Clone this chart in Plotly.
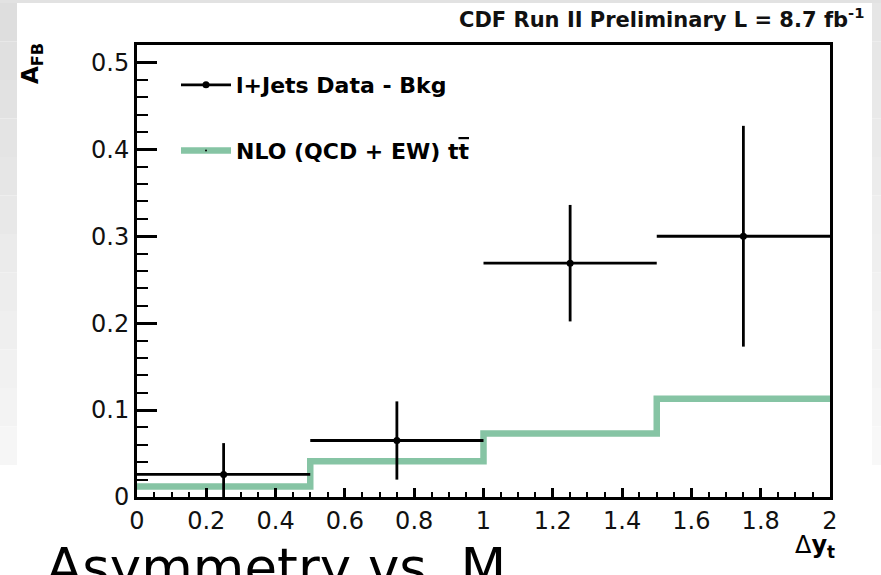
import plotly.graph_objects as go

# ---- data -------------------------------------------------------------
bin_centers = [0.25, 0.75, 1.25, 1.75]
bin_halfwidth = [0.25, 0.25, 0.25, 0.25]
afb_data = [0.026, 0.065, 0.269, 0.300]
afb_err = [0.036, 0.045, 0.067, 0.127]

nlo_edges = [0.0, 0.5, 1.0, 1.5, 2.0]
nlo_values = [0.012, 0.041, 0.073, 0.113]

data_label = "l+Jets Data - Bkg"
nlo_label = "NLO (QCD + EW) t<span style='text-decoration:overline'>t</span>"

# ---- geometry (pixels) ------------------------------------------------
W, H = 881, 575
L, R, T, B = 137, 830, 45, 497


def px(x):
    return (x - L) / (R - L)


def py(y):
    return (B - y) / (B - T)


GREEN = "#86c4a4"
FONT = "DejaVu Sans, Liberation Sans, Arial, sans-serif"

fig = go.Figure()

# NLO prediction as a step histogram
fig.add_trace(go.Scatter(
    x=nlo_edges,
    y=nlo_values + [nlo_values[-1]],
    mode="lines",
    line=dict(color=GREEN, width=6.5, shape="hv"),
    showlegend=False,
    hoverinfo="skip",
))

# background-subtracted data with bin-width and statistical errors
fig.add_trace(go.Scatter(
    x=bin_centers,
    y=afb_data,
    mode="markers",
    marker=dict(color="black", size=7),
    error_x=dict(type="data", array=bin_halfwidth, color="black", thickness=2.8, width=0),
    error_y=dict(type="data", array=afb_err, color="black", thickness=2.8, width=0),
    showlegend=False,
))

# legend entries
fig.add_trace(go.Scatter(
    x=[None], y=[None], mode="lines+markers", name=data_label,
    line=dict(color="black", width=2.8), marker=dict(color="black", size=7),
    legendgroup="a", legendrank=1,
))
fig.add_trace(go.Scatter(
    x=[None], y=[None], mode="lines+markers", name=nlo_label,
    line=dict(color=GREEN, width=6.5), marker=dict(color="black", size=2),
    legendgroup="b", legendrank=2,
))

# slide background strips around the figure
shapes = []
n_bands = 12
for i in range(n_bands):
    y0 = 3 + i * (462 / n_bands)
    y1 = 3 + (i + 1) * (462 / n_bands)
    g = int(222 + (246 - 222) * i / (n_bands - 1))
    col = f"rgb({g},{g},{g})"
    shapes.append(dict(type="rect", xref="paper", yref="paper", layer="below",
                       x0=px(0), x1=px(17), y0=py(y1), y1=py(y0),
                       line=dict(width=0), fillcolor=col))
    g2 = int(230 + (248 - 230) * i / (n_bands - 1))
    col2 = f"rgb({g2},{g2},{g2})"
    shapes.append(dict(type="rect", xref="paper", yref="paper", layer="below",
                       x0=px(872), x1=px(881), y0=py(y1), y1=py(y0),
                       line=dict(width=0), fillcolor=col2))
shapes.append(dict(type="rect", xref="paper", yref="paper", layer="below",
                   x0=px(0), x1=px(881), y0=py(3), y1=py(0),
                   line=dict(width=0), fillcolor="rgb(226,226,226)"))

annotations = [
    dict(text="CDF Run II Preliminary L = 8.7 fb<sup>-1</sup>",
         xref="paper", yref="paper", x=px(866), y=py(18),
         xanchor="right", yanchor="middle", showarrow=False,
         font=dict(family=FONT, size=21, color="#111111", weight="bold")),
    dict(text="<b>A<sub>FB</sub></b>", textangle=-90,
         xref="paper", yref="paper", x=px(32), y=py(64),
         xanchor="center", yanchor="middle", showarrow=False,
         font=dict(family=FONT, size=23, color="black")),
    dict(text="Δ<b>y<sub>t</sub></b>",
         xref="paper", yref="paper", x=px(815), y=py(546),
         xanchor="center", yanchor="middle", showarrow=False,
         font=dict(family=FONT, size=24, color="black")),
    dict(text="Asymmetry vs. M",
         xref="paper", yref="paper", x=px(44), y=py(535),
         xanchor="left", yanchor="top", showarrow=False,
         font=dict(family="Comic Sans MS, DejaVu Sans, sans-serif", size=53, color="black")),
]

axis_common = dict(
    showline=True, linecolor="black", linewidth=3, mirror=True,
    ticks="inside", tickcolor="black", showgrid=False, zeroline=False,
    tickfont=dict(family=FONT, size=24, color="#111111"),
    automargin=False,
)

fig.update_layout(
    width=W, height=H,
    margin=dict(l=L, r=W - R, t=T, b=H - B, autoexpand=False),
    paper_bgcolor="white", plot_bgcolor="white",
    shapes=shapes, annotations=annotations,
    showlegend=True,
    legend=dict(
        x=px(176), y=py(64), xanchor="left", yanchor="top",
        bgcolor="rgba(0,0,0,0)", borderwidth=0,
        font=dict(family=FONT, size=22, color="black", weight="bold"),
        itemwidth=50, tracegroupgap=34,
    ),
    xaxis=dict(
        range=[0, 2], dtick=0.2, ticklen=9, tickwidth=2.5, tickangle=0,
        minor=dict(dtick=0.05, ticklen=5, tickwidth=2, ticks="inside", tickcolor="black"),
        **axis_common,
    ),
    yaxis=dict(
        range=[0, 0.52], dtick=0.1, ticklen=20, tickwidth=2.5,
        minor=dict(dtick=0.02, ticklen=11, tickwidth=2, ticks="inside", tickcolor="black"),
        **axis_common,
    ),
)

fig.write_html("out.html")
